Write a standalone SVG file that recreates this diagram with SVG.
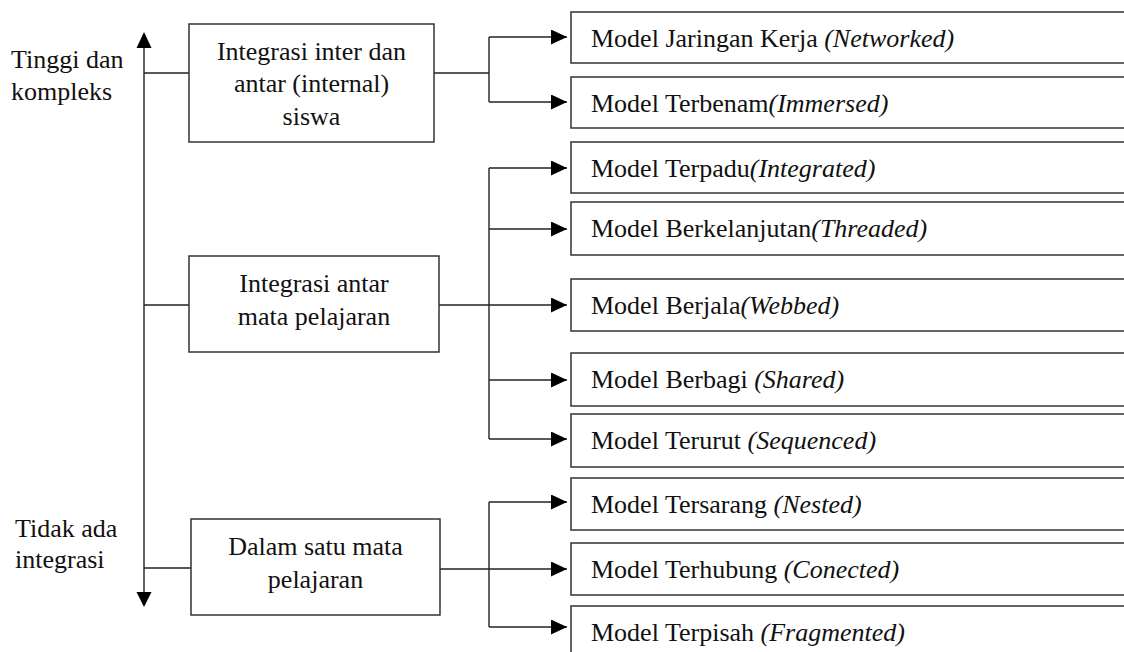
<svg xmlns="http://www.w3.org/2000/svg" width="1124" height="652" viewBox="0 0 1124 652">
<style>
  text { font-family: 'Liberation Serif', 'Times New Roman', Times, 'Nimbus Roman', 'DejaVu Serif', serif; font-size: 26px; fill: #111; }
  .c { text-anchor: middle; }
  .i { font-style: italic; }
  .box { fill: #fff; stroke: #333; stroke-width: 1.5; }
  .ln { fill: none; stroke: #222; stroke-width: 1.4; }
</style>
<defs>
  <marker id="ah" markerUnits="userSpaceOnUse" markerWidth="16" markerHeight="15" refX="16" refY="7.5" orient="auto">
    <path d="M0,0 L16,7.5 L0,15 Z" fill="#000"/>
  </marker>
</defs>

<g id="axis">
  <line class="ln" x1="144" y1="44" x2="144" y2="596"/>
  <polygon points="144,32 136.5,48 151.5,48" fill="#000"/>
  <polygon points="144,607 136.5,592 151.5,592" fill="#000"/>
  <text x="11" y="68" font-family="Liberation Serif, serif">Tinggi dan</text>
  <text x="11" y="100" font-family="Liberation Serif, serif">kompleks</text>
  <text x="15" y="537" font-family="Liberation Serif, serif">Tidak ada</text>
  <text x="15" y="568" font-family="Liberation Serif, serif">integrasi</text>
</g>

<g id="connectors">
  <line class="ln" x1="144" y1="73" x2="189" y2="73"/>
  <line class="ln" x1="144" y1="305" x2="189" y2="305"/>
  <line class="ln" x1="144" y1="568" x2="191" y2="568"/>

  <line class="ln" x1="434" y1="73" x2="489" y2="73"/>
  <line class="ln" x1="489" y1="37" x2="489" y2="102"/>
  <line class="ln" x1="489" y1="37" x2="567" y2="37" marker-end="url(#ah)"/>
  <line class="ln" x1="489" y1="102" x2="567" y2="102" marker-end="url(#ah)"/>

  <line class="ln" x1="439" y1="305" x2="567" y2="305" marker-end="url(#ah)"/>
  <line class="ln" x1="489" y1="168" x2="489" y2="439"/>
  <line class="ln" x1="489" y1="168" x2="567" y2="168" marker-end="url(#ah)"/>
  <line class="ln" x1="489" y1="229" x2="567" y2="229" marker-end="url(#ah)"/>
  <line class="ln" x1="489" y1="380" x2="567" y2="380" marker-end="url(#ah)"/>
  <line class="ln" x1="489" y1="439" x2="567" y2="439" marker-end="url(#ah)"/>

  <line class="ln" x1="440" y1="569" x2="567" y2="569" marker-end="url(#ah)"/>
  <line class="ln" x1="489" y1="502" x2="489" y2="627"/>
  <line class="ln" x1="489" y1="502" x2="567" y2="502" marker-end="url(#ah)"/>
  <line class="ln" x1="489" y1="627" x2="567" y2="627" marker-end="url(#ah)"/>
</g>

<g id="box-inter-siswa">
  <rect class="box" x="189" y="24" width="245" height="118"/>
  <text class="c" x="311.5" y="60">Integrasi inter dan</text>
  <text class="c" x="311.5" y="92">antar (internal)</text>
  <text class="c" x="311.5" y="125">siswa</text>
</g>
<g id="box-antar-mapel">
  <rect class="box" x="189" y="256" width="250" height="96"/>
  <text class="c" x="314" y="292">Integrasi antar</text>
  <text class="c" x="314" y="325">mata pelajaran</text>
</g>
<g id="box-satu-mapel">
  <rect class="box" x="191" y="519" width="249" height="96"/>
  <text class="c" x="315.5" y="555">Dalam satu mata</text>
  <text class="c" x="315.5" y="588">pelajaran</text>
</g>

<g id="m-networked">
  <rect class="box" x="571" y="12" width="570" height="51"/>
  <text x="591" y="47">Model Jaringan Kerja <tspan class="i">(Networked)</tspan></text>
</g>
<g id="m-immersed">
  <rect class="box" x="571" y="77" width="570" height="51"/>
  <text x="591" y="112">Model Terbenam<tspan class="i">(Immersed)</tspan></text>
</g>
<g id="m-integrated">
  <rect class="box" x="571" y="142" width="570" height="51"/>
  <text x="591" y="177">Model Terpadu<tspan class="i">(Integrated)</tspan></text>
</g>
<g id="m-threaded">
  <rect class="box" x="571" y="202" width="570" height="53"/>
  <text x="591" y="237">Model Berkelanjutan<tspan class="i">(Threaded)</tspan></text>
</g>
<g id="m-webbed">
  <rect class="box" x="571" y="279" width="570" height="52"/>
  <text x="591" y="314">Model Berjala<tspan class="i">(Webbed)</tspan></text>
</g>
<g id="m-shared">
  <rect class="box" x="571" y="353" width="570" height="53"/>
  <text x="591" y="388">Model Berbagi <tspan class="i">(Shared)</tspan></text>
</g>
<g id="m-sequenced">
  <rect class="box" x="571" y="414" width="570" height="53"/>
  <text x="591" y="449">Model Terurut <tspan class="i">(Sequenced)</tspan></text>
</g>
<g id="m-nested">
  <rect class="box" x="571" y="478" width="570" height="52"/>
  <text x="591" y="513">Model Tersarang <tspan class="i">(Nested)</tspan></text>
</g>
<g id="m-conected">
  <rect class="box" x="571" y="543" width="570" height="52"/>
  <text x="591" y="578">Model Terhubung <tspan class="i">(Conected)</tspan></text>
</g>
<g id="m-fragmented">
  <rect class="box" x="571" y="606" width="570" height="60"/>
  <text x="591" y="641">Model Terpisah <tspan class="i">(Fragmented)</tspan></text>
</g>
</svg>
